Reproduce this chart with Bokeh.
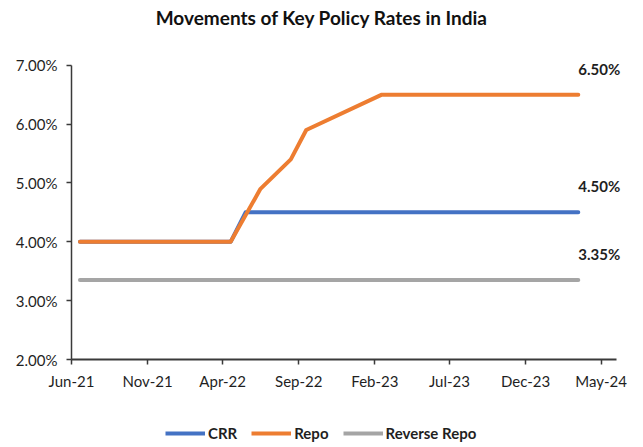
from datetime import datetime

from bokeh.embed import file_html
from bokeh.resources import INLINE
from bokeh.layouts import column
from bokeh.plotting import figure
from bokeh.core.properties import value
from bokeh.models import (Range1d, FixedTicker, PrintfTickFormatter,
                          DatetimeTickFormatter, Legend, LegendItem,
                          LabelSet, Label, ColumnDataSource)

# ---- data (rates in %) ----
crr_dates = ["2021-06-18", "2022-04-17", "2022-05-17", "2024-03-16"]
crr_rates = [4.00, 4.00, 4.50, 4.50]

repo_dates = ["2021-06-18", "2022-04-17", "2022-06-16", "2022-08-16",
              "2022-09-16", "2023-02-15", "2024-03-16"]
repo_rates = [4.00, 4.00, 4.90, 5.40, 5.90, 6.50, 6.50]

rev_repo_dates = ["2021-06-18", "2024-03-16"]
rev_repo_rates = [3.35, 3.35]

x_tick_months = ["2021-06-01", "2021-11-01", "2022-04-01", "2022-09-01",
                 "2023-02-01", "2023-07-01", "2023-12-01", "2024-05-01"]
y_ticks = [2, 3, 4, 5, 6, 7]

series_names = ["CRR", "Repo", "Reverse Repo"]
series_colors = ["#4472C4", "#ED7D31", "#A5A5A5"]


def to_dt(seq):
    return [datetime.strptime(s, "%Y-%m-%d") for s in seq]


def to_ms(seq):
    return [datetime.strptime(s, "%Y-%m-%d").timestamp() * 1000 for s in seq]


FONT = "Lato"
TEXT = "#1f1f1f"
W = 643
LEFT, RIGHT = 71, 12          # page margins around the plotting frame

# drawn axis extent vs. a slightly larger frame so end labels have room
x_axis_span = (datetime(2021, 6, 1), datetime(2024, 6, 1))
y_axis_span = (2, 7)
x_view = (datetime(2021, 6, 1), datetime(2024, 7, 1))
y_view = (2, 7.25)

series = list(zip(series_names,
                  [crr_dates, repo_dates, rev_repo_dates],
                  [crr_rates, repo_rates, rev_repo_rates],
                  series_colors))


def blank_panel(height):
    # strip whose frame lines up with the chart frame (column aligns frames)
    f = figure(width=W, height=height, output_backend="svg",
               toolbar_location=None, min_border=0,
               min_border_left=LEFT, min_border_right=RIGHT,
               x_axis_location=None, y_axis_location=None,
               x_range=Range1d(0, 1), y_range=Range1d(0, 1))
    f.outline_line_color = None
    f.xgrid.visible = False
    f.ygrid.visible = False
    f.background_fill_color = "white"
    f.border_fill_color = "white"
    return f


# ---- title strip (text centred on the page) ----
head = blank_panel(30)
head.add_layout(Label(x=W / 2 - LEFT, y=13, x_units="screen", y_units="screen",
                      text="Movements of Key Policy Rates in India",
                      text_align="center", text_baseline="middle",
                      text_font=FONT, text_font_size="19px",
                      text_font_style="bold", text_color="#111111"))

# ---- main chart ----
p = figure(width=W, height=380, x_axis_type="datetime",
           x_range=Range1d(*x_view), y_range=Range1d(*y_view),
           output_backend="svg", toolbar_location=None,
           min_border_left=LEFT, min_border_right=RIGHT,
           min_border_top=20, min_border_bottom=51)

p.background_fill_color = "white"
p.border_fill_color = "white"
p.outline_line_color = None
p.xgrid.visible = False
p.ygrid.visible = False

p.xaxis.bounds = x_axis_span
p.yaxis.bounds = y_axis_span
p.xaxis.ticker = FixedTicker(ticks=to_ms(x_tick_months))
p.xaxis.formatter = DatetimeTickFormatter(months="%b-%y", days="%b-%y",
                                          years="%b-%y")
p.yaxis.ticker = FixedTicker(ticks=y_ticks)
p.yaxis.formatter = PrintfTickFormatter(format="%.2f%%")

for ax in (p.xaxis, p.yaxis):
    ax.axis_line_color = "#3a3a3a"
    ax.major_tick_line_color = "#3a3a3a"
    ax.major_tick_in = 0
    ax.major_tick_out = 5
    ax.minor_tick_line_color = None
    ax.major_label_text_font = FONT
    ax.major_label_text_font_size = "15px"
    ax.major_label_text_color = TEXT
p.xaxis.axis_line_width = 2
p.yaxis.axis_line_width = 1.5
p.xaxis.major_tick_line_width = 1.5
p.yaxis.major_tick_line_width = 1.5
p.yaxis.major_label_standoff = 9
p.xaxis.major_label_standoff = 7

for name, d, r, color in series:
    p.line(to_dt(d), r, line_color=color, line_width=4,
           line_cap="round", line_join="round")

# value labels at the end of each series
end_src = ColumnDataSource(dict(
    x=[to_dt(d)[-1] for _, d, _, _ in series],
    y=[r[-1] for _, _, r, _ in series],
    text=[f"{r[-1]:.2f}%" for _, _, r, _ in series],
))
p.add_layout(LabelSet(x="x", y="y", text="text", source=end_src,
                      x_offset=21, y_offset=26,
                      text_align="center", text_baseline="middle",
                      text_font=value(FONT), text_font_size=value("15px"),
                      text_font_style=value("bold"), text_color=value(TEXT)))

# ---- legend strip ----
# legend keys reuse the series data; the strip's 0..1 ranges keep them off-view
foot = blank_panel(37)
items = []
for name, d, r, color in series:
    key = foot.line(to_ms(d), r, line_color=color, line_width=4)
    items.append(LegendItem(label=name, renderers=[key]))

legend = Legend(items=items, orientation="horizontal",
                location=(165 - LEFT, 5),
                glyph_width=40, glyph_height=16, label_standoff=3,
                spacing=14, padding=0, margin=0,
                label_text_font=FONT, label_text_font_size="15px",
                label_text_font_style="bold", label_text_color=TEXT,
                border_line_color=None, background_fill_alpha=0)
foot.add_layout(legend, "center")

page = column(head, p, foot, spacing=0)
open("out.html", "w").write(file_html(page, INLINE))
